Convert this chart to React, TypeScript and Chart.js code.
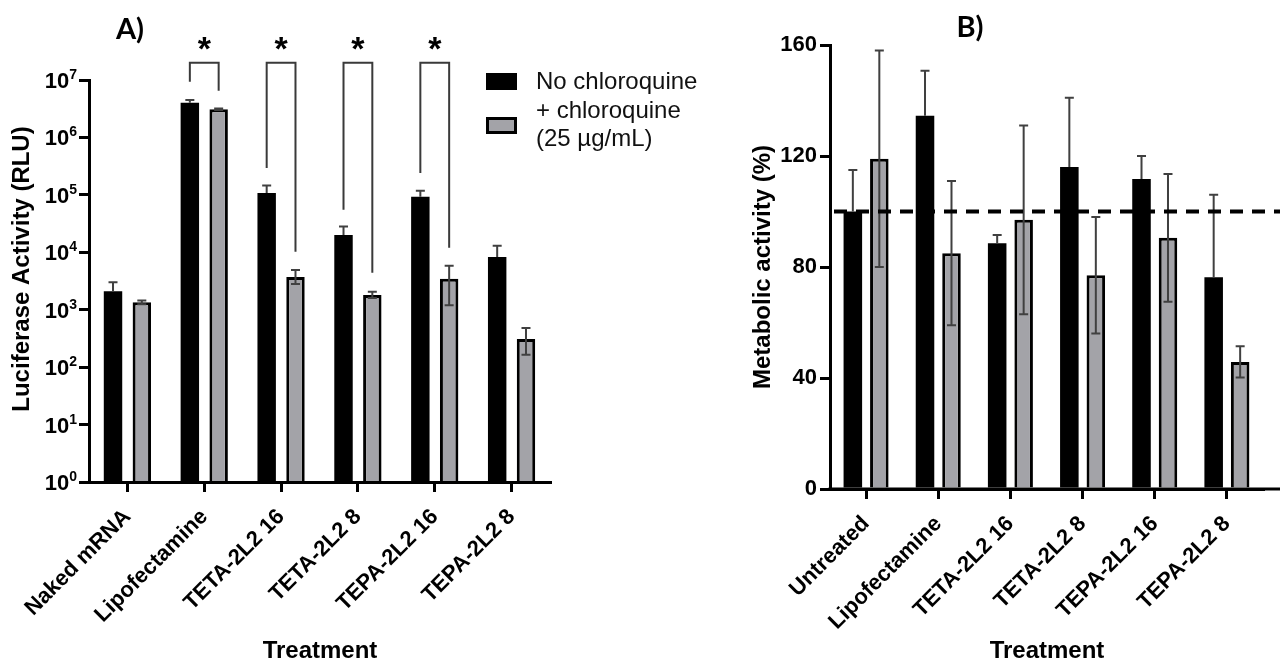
import React, { useEffect, useRef } from 'react';
import { Chart, registerables } from 'chart.js';
Chart.register(...registerables);

// ---------- Panel A data ----------
const catsA = ['Naked mRNA', 'Lipofectamine', 'TETA-2L2 16', 'TETA-2L2 8', 'TEPA-2L2 16', 'TEPA-2L2 8'];
const lucNoCQ = [2100, 4.0e6, 1.08e5, 2.0e4, 9.3e4, 8300];
const lucNoCQHigh = [3000, 4.5e6, 1.45e5, 2.8e4, 1.18e5, 1.3e4];
const lucCQ = [1350, 3.1e6, 3700, 1800, 3450, 310];
const lucCQHigh = [1450, 3.2e6, 4900, 2050, 5800, 480];
const lucCQLow = [1250, 3.0e6, 2800, 1600, 1200, 165];
const lucTicks = [1, 10, 100, 1e3, 1e4, 1e5, 1e6, 1e7];
const lucTickExp = ['0', '1', '2', '3', '4', '5', '6', '7'];
// significance brackets
const bracketCats = [1, 2, 3, 4];
const bracketTop = [2.0e7, 2.0e7, 2.0e7, 2.0e7];
const bracketLeftEnd = [9.3e6, 2.95e5, 5.5e4, 2.4e5];
const bracketRightEnd = [6.5e6, 1.02e4, 4400, 1.2e4];
const starLevel = 4.2e7;

// ---------- Panel B data ----------
const catsB = ['Untreated', 'Lipofectamine', 'TETA-2L2 16', 'TETA-2L2 8', 'TEPA-2L2 16', 'TEPA-2L2 8'];
const metNoCQ = [100, 134.5, 88.6, 116, 111.7, 76.3];
const metNoCQErr = [15, 16.2, 2.9, 25, 8.3, 29.7];
const metCQ = [119, 85, 97, 77, 90.5, 45.8];
const metCQErr = [39, 26, 34, 21, 23, 5.6];
const refLine = 100;
const metTicks = [0, 40, 80, 120, 160];

const legendLabels = ['No chloroquine', '+ chloroquine', '(25 µg/mL)'];

const FONT = "'Liberation Sans', Arial, sans-serif";
const TITLE_FONT = "Lato, 'Open Sans', sans-serif";
const GREY = '#a3a3a8';
const ERR = '#404040';

function errBar(ctx: CanvasRenderingContext2D, x: number, yTop: number, yBot: number, capTop: boolean, capBot: boolean) {
  const cap = 4.5;
  ctx.beginPath();
  ctx.moveTo(x, yBot);
  ctx.lineTo(x, yTop);
  if (capTop) { ctx.moveTo(x - cap, yTop); ctx.lineTo(x + cap, yTop); }
  if (capBot) { ctx.moveTo(x - cap, yBot); ctx.lineTo(x + cap, yBot); }
  ctx.stroke();
}

const A_W = 740;
const B_W = 540;

function PanelA() {
  const ref = useRef<HTMLCanvasElement>(null);
  useEffect(() => {
    const plugin = {
      id: 'annA',
      afterDatasetsDraw(chart: any) {
        const ctx = chart.ctx as CanvasRenderingContext2D;
        const y = chart.scales.y;
        const m0 = chart.getDatasetMeta(0);
        const m1 = chart.getDatasetMeta(1);
        ctx.save();
        ctx.strokeStyle = ERR;
        ctx.lineWidth = 2;
        m0.data.forEach((el: any, i: number) => {
          errBar(ctx, el.x, y.getPixelForValue(lucNoCQHigh[i]), y.getPixelForValue(lucNoCQ[i]), true, false);
        });
        m1.data.forEach((el: any, i: number) => {
          errBar(ctx, el.x, y.getPixelForValue(lucCQHigh[i]), y.getPixelForValue(lucCQLow[i]), true, true);
        });
        ctx.restore();
      },
      afterDraw(chart: any) {
        const ctx = chart.ctx as CanvasRenderingContext2D;
        const y = chart.scales.y;
        const area = chart.chartArea;
        const m0 = chart.getDatasetMeta(0);
        const m1 = chart.getDatasetMeta(1);
        ctx.save();
        // brackets
        ctx.strokeStyle = '#3a3a3a';
        ctx.lineWidth = 2;
        bracketCats.forEach((c, k) => {
          const xl = m0.data[c].x;
          const xr = m1.data[c].x;
          const yt = y.getPixelForValue(bracketTop[k]);
          ctx.beginPath();
          ctx.moveTo(xl, y.getPixelForValue(bracketLeftEnd[k]));
          ctx.lineTo(xl, yt);
          ctx.lineTo(xr, yt);
          ctx.lineTo(xr, y.getPixelForValue(bracketRightEnd[k]));
          ctx.stroke();
          ctx.fillStyle = '#000';
          ctx.font = `bold 34px ${FONT}`;
          ctx.textAlign = 'center';
          ctx.textBaseline = 'middle';
          ctx.fillText('*', (xl + xr) / 2, y.getPixelForValue(starLevel) + 6);
        });
        // y tick labels with superscripts
        ctx.fillStyle = '#000';
        ctx.textBaseline = 'alphabetic';
        lucTicks.forEach((v, i) => {
          const py = y.getPixelForValue(v);
          const right = area.left - 12;
          ctx.font = `bold 14px ${FONT}`;
          const sw = ctx.measureText(lucTickExp[i]).width;
          ctx.textAlign = 'left';
          ctx.fillText(lucTickExp[i], right - sw, py - 1);
          ctx.font = `bold 22px ${FONT}`;
          ctx.textAlign = 'right';
          ctx.fillText('10', right - sw, py + 8);
        });
        // y title
        ctx.save();
        ctx.translate(22, 269);
        ctx.rotate(-Math.PI / 2);
        ctx.font = `bold 24px ${FONT}`;
        ctx.textAlign = 'center';
        ctx.textBaseline = 'middle';
        ctx.fillText('Luciferase Activity (RLU)', 0, 0);
        ctx.restore();
        // x title
        ctx.font = `bold 24px ${FONT}`;
        ctx.textAlign = 'center';
        ctx.textBaseline = 'middle';
        ctx.fillText('Treatment', 320, 651);
        // panel label
        ctx.font = `bold 29px ${TITLE_FONT}`;
        ctx.fillText('A)', 130, 30);
        // legend
        ctx.fillStyle = '#000';
        ctx.fillRect(486, 73, 31, 17);
        ctx.fillStyle = GREY;
        ctx.fillRect(487.5, 118.5, 28, 14);
        ctx.strokeStyle = '#000';
        ctx.lineWidth = 3;
        ctx.strokeRect(487.5, 118.5, 28, 14);
        ctx.fillStyle = '#111';
        ctx.font = `24px ${FONT}`;
        ctx.textAlign = 'left';
        ctx.textBaseline = 'middle';
        ctx.fillText(legendLabels[0], 536, 82);
        ctx.fillText(legendLabels[1], 536, 111);
        ctx.fillText(legendLabels[2], 536, 139);
        ctx.restore();
      },
    };
    const chart = new Chart(ref.current as HTMLCanvasElement, {
      type: 'bar',
      data: {
        labels: catsA,
        datasets: [
          { label: legendLabels[0], data: lucNoCQ, backgroundColor: '#000', borderWidth: 0, categoryPercentage: 0.75, barPercentage: 0.64 },
          { label: legendLabels[1], data: lucCQ, backgroundColor: GREY, borderColor: '#000', borderWidth: 3, categoryPercentage: 0.75, barPercentage: 0.64 },
        ],
      },
      options: {
        responsive: false,
        animation: false,
        layout: { padding: { left: 0, top: 80, right: A_W - 550, bottom: 0 } },
        plugins: { legend: { display: false }, tooltip: { enabled: false } },
        scales: {
          x: {
            grid: { display: true, drawOnChartArea: false, offset: false, tickLength: 10, lineWidth: 3, color: '#000' },
            border: { display: true, width: 3, color: '#000', z: 1 },
            ticks: { color: '#000', font: { family: FONT, weight: 'bold', size: 22 }, minRotation: 45, maxRotation: 45, autoSkip: false, padding: 12 },
            afterFit: (s: any) => { s.height = 182; },
          },
          y: {
            type: 'logarithmic',
            min: 1,
            max: 1e7,
            grid: { display: true, drawOnChartArea: false, tickLength: 10, lineWidth: 3, color: '#000' },
            border: { display: true, width: 3, color: '#000', z: 1 },
            ticks: { display: false },
            afterBuildTicks: (s: any) => { s.ticks = lucTicks.map((v) => ({ value: v })); },
            afterFit: (s: any) => { s.width = 89; },
          },
        },
      },
      plugins: [plugin],
    } as any);
    return () => chart.destroy();
  }, []);
  return <canvas ref={ref} width={A_W} height={664} style={{ position: 'absolute', left: 0, top: 0 }} />;
}

function PanelB() {
  const ref = useRef<HTMLCanvasElement>(null);
  useEffect(() => {
    const plugin = {
      id: 'annB',
      afterDatasetsDraw(chart: any) {
        const ctx = chart.ctx as CanvasRenderingContext2D;
        const y = chart.scales.y;
        const area = chart.chartArea;
        const m0 = chart.getDatasetMeta(0);
        const m1 = chart.getDatasetMeta(1);
        ctx.save();
        ctx.strokeStyle = ERR;
        ctx.lineWidth = 2;
        m0.data.forEach((el: any, i: number) => {
          errBar(ctx, el.x, y.getPixelForValue(metNoCQ[i] + metNoCQErr[i]), y.getPixelForValue(metNoCQ[i]), true, false);
        });
        m1.data.forEach((el: any, i: number) => {
          errBar(ctx, el.x, y.getPixelForValue(metCQ[i] + metCQErr[i]), y.getPixelForValue(metCQ[i] - metCQErr[i]), true, true);
        });
        // dashed reference line
        const py = y.getPixelForValue(refLine);
        ctx.strokeStyle = '#000';
        ctx.lineWidth = 4;
        ctx.setLineDash([13, 9]);
        ctx.beginPath();
        ctx.moveTo(area.left + 4, py);
        ctx.lineTo(chart.width, py);
        ctx.stroke();
        ctx.setLineDash([]);
        ctx.restore();
      },
      afterDraw(chart: any) {
        const ctx = chart.ctx as CanvasRenderingContext2D;
        const area = chart.chartArea;
        const xs = chart.scales.x;
        ctx.save();
        // x axis line running to the edge
        ctx.strokeStyle = '#000';
        ctx.lineWidth = 3;
        ctx.beginPath();
        ctx.moveTo(area.left - 1.5, xs.top);
        ctx.lineTo(chart.width, xs.top);
        ctx.stroke();
        ctx.fillStyle = '#000';
        ctx.save();
        ctx.translate(23, 267);
        ctx.rotate(-Math.PI / 2);
        ctx.font = `bold 24px ${FONT}`;
        ctx.textAlign = 'center';
        ctx.textBaseline = 'middle';
        ctx.fillText('Metabolic activity (%)', 0, 0);
        ctx.restore();
        ctx.font = `bold 24px ${FONT}`;
        ctx.textAlign = 'center';
        ctx.textBaseline = 'middle';
        ctx.fillText('Treatment', 307, 651);
        ctx.font = `bold 29px ${TITLE_FONT}`;
        ctx.fillText('B)', 230, 28);
        ctx.restore();
      },
    };
    const chart = new Chart(ref.current as HTMLCanvasElement, {
      type: 'bar',
      data: {
        labels: catsB,
        datasets: [
          { label: legendLabels[0], data: metNoCQ, backgroundColor: '#000', borderWidth: 0, categoryPercentage: 0.734, barPercentage: 0.7 },
          { label: legendLabels[1], data: metCQ, backgroundColor: GREY, borderColor: '#000', borderWidth: 3, categoryPercentage: 0.734, barPercentage: 0.7 },
        ],
      },
      options: {
        responsive: false,
        animation: false,
        layout: { padding: { left: 0, top: 45, right: 17, bottom: 0 } },
        plugins: { legend: { display: false }, tooltip: { enabled: false } },
        scales: {
          x: {
            grid: { display: true, drawOnChartArea: false, offset: false, tickLength: 10, lineWidth: 3, color: '#000' },
            border: { display: true, width: 3, color: '#000', z: 1 },
            ticks: { color: '#000', font: { family: FONT, weight: 'bold', size: 22 }, minRotation: 45, maxRotation: 45, autoSkip: false, padding: 12 },
            afterFit: (s: any) => { s.height = 175; },
          },
          y: {
            min: 0,
            max: 160,
            grid: { display: true, drawOnChartArea: false, tickLength: 10, lineWidth: 3, color: '#000' },
            border: { display: true, width: 3, color: '#000', z: 1 },
            ticks: { color: '#000', font: { family: FONT, weight: 'bold', size: 22 }, padding: 3 },
            afterBuildTicks: (s: any) => { s.ticks = metTicks.map((v) => ({ value: v })); },
            afterFit: (s: any) => { s.width = 90; },
          },
        },
      },
      plugins: [plugin],
    } as any);
    return () => chart.destroy();
  }, []);
  return <canvas ref={ref} width={B_W} height={664} style={{ position: 'absolute', left: A_W, top: 0 }} />;
}

export default function App() {
  return (
    <div style={{ position: 'fixed', left: 0, top: 0, width: 1280, height: 664, background: '#fff' }}>
      <PanelA />
      <PanelB />
    </div>
  );
}
